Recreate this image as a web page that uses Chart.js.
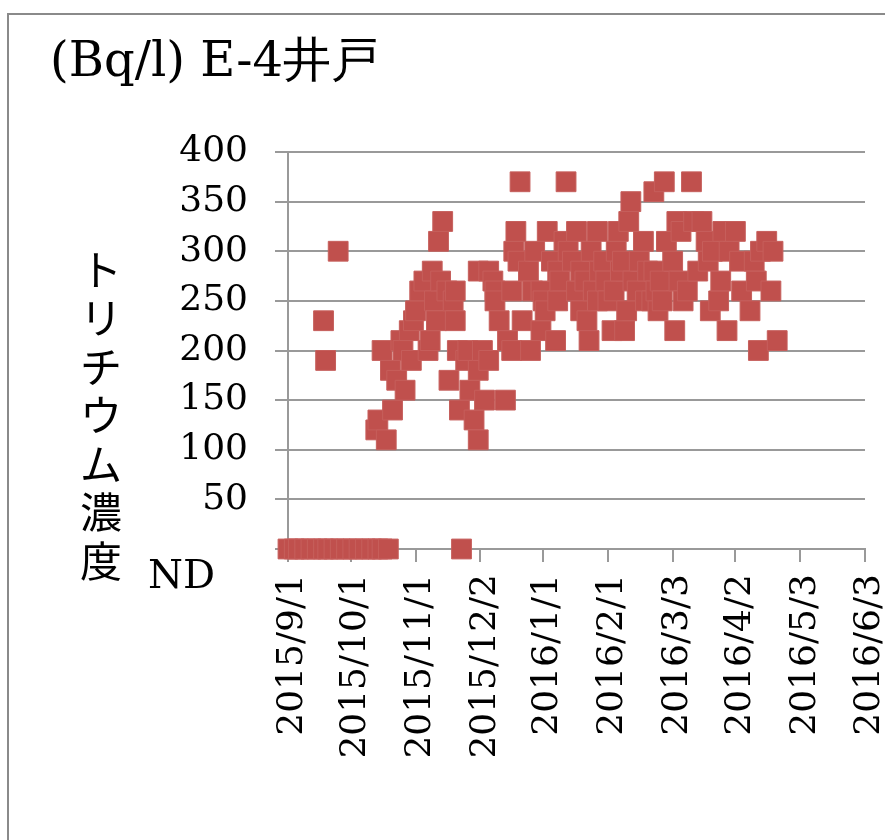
<!DOCTYPE html>
<html>
<head>
<meta charset="utf-8">
<script src="https://cdn.jsdelivr.net/npm/chart.js@4/dist/chart.umd.min.js"></script>
<style>
  html, body { margin: 0; padding: 0; background: #fff; }
</style>
</head>
<body>
<canvas id="chart" width="885" height="840"></canvas>
<script>
// dates where the result was below detection (plotted on the ND row)
const ndDates = [
  '2015/9/1', '2015/9/4', '2015/9/6', '2015/9/9', '2015/9/12', '2015/9/15',
  '2015/9/18', '2015/9/20', '2015/9/23', '2015/9/26', '2015/9/29', '2015/10/2',
  '2015/10/5', '2015/10/8', '2015/10/11', '2015/10/14', '2015/10/16', '2015/10/19',
  '2015/11/23'
];

const sampleDates = [
  '2015/9/18', '2015/9/19', '2015/9/25', '2015/10/13', '2015/10/14', '2015/10/16',
  '2015/10/18', '2015/10/20', '2015/10/21', '2015/10/23', '2015/10/25', '2015/10/26',
  '2015/10/27', '2015/10/29', '2015/10/30', '2015/10/31', '2015/11/1', '2015/11/3',
  '2015/11/5', '2015/11/7', '2015/11/8', '2015/11/9', '2015/11/10', '2015/11/11',
  '2015/11/12', '2015/11/13', '2015/11/14', '2015/11/16', '2015/11/17', '2015/11/19',
  '2015/11/20', '2015/11/20', '2015/11/21', '2015/11/22', '2015/11/25', '2015/11/26',
  '2015/11/27', '2015/11/29', '2015/12/1', '2015/12/1', '2015/12/1', '2015/12/3',
  '2015/12/4', '2015/12/6', '2015/12/6', '2015/12/8', '2015/12/9', '2015/12/9',
  '2015/12/11', '2015/12/14', '2015/12/15', '2015/12/17', '2015/12/17', '2015/12/18',
  '2015/12/19', '2015/12/20', '2015/12/21', '2015/12/22', '2015/12/25', '2015/12/26',
  '2015/12/27', '2015/12/28', '2015/12/31', '2015/12/31', '2016/1/1', '2016/1/2',
  '2016/1/3', '2016/1/5', '2016/1/7', '2016/1/8', '2016/1/8', '2016/1/9',
  '2016/1/11', '2016/1/12', '2016/1/13', '2016/1/15', '2016/1/17', '2016/1/17',
  '2016/1/19', '2016/1/19', '2016/1/21', '2016/1/22', '2016/1/23', '2016/1/24',
  '2016/1/25', '2016/1/27', '2016/1/27', '2016/1/28', '2016/1/30', '2016/1/31',
  '2016/2/1', '2016/2/3', '2016/2/4', '2016/2/5', '2016/2/6', '2016/2/7',
  '2016/2/8', '2016/2/9', '2016/2/10', '2016/2/11', '2016/2/12', '2016/2/13',
  '2016/2/15', '2016/2/16', '2016/2/18', '2016/2/19', '2016/2/20', '2016/2/22',
  '2016/2/23', '2016/2/23', '2016/2/24', '2016/2/25', '2016/2/26', '2016/2/27',
  '2016/2/28', '2016/2/29', '2016/3/3', '2016/3/4', '2016/3/5', '2016/3/6',
  '2016/3/7', '2016/3/8', '2016/3/10', '2016/3/12', '2016/3/13', '2016/3/15',
  '2016/3/17', '2016/3/19', '2016/3/20', '2016/3/21', '2016/3/22', '2016/3/25',
  '2016/3/26', '2016/3/27', '2016/3/29', '2016/3/30', '2016/4/2', '2016/4/4',
  '2016/4/5', '2016/4/9', '2016/4/11', '2016/4/12', '2016/4/13', '2016/4/14',
  '2016/4/17', '2016/4/19', '2016/4/20', '2016/4/22'
];

const tritium = [
  230, 190, 300, 120, 130, 200,
  110, 180, 140, 170, 210, 200,
  160, 220, 190, 230, 240, 260,
  270, 200, 210, 280, 250, 230,
  310, 270, 330, 260, 170, 250,
  230, 260, 200, 140, 190, 200,
  160, 130, 280, 180, 110, 200,
  150, 190, 280, 270, 260, 250,
  230, 150, 210, 260, 200, 300,
  320, 290, 370, 230, 280, 200,
  260, 300, 220, 260, 250, 240,
  320, 290, 210, 280, 250, 270,
  310, 370, 300, 290, 320, 260,
  280, 240, 270, 230, 210, 300,
  260, 320, 250, 280, 290, 270,
  250, 220, 260, 300, 320, 280,
  290, 220, 240, 330, 350, 270,
  260, 290, 310, 250, 280, 250,
  360, 280, 260, 240, 270, 250,
  370, 310, 290, 220, 330, 270,
  320, 250, 260, 370, 330, 280,
  330, 310, 290, 240, 300, 250,
  270, 320, 220, 300, 320, 290,
  260, 240, 290, 270, 200, 300,
  310, 260, 300, 210
];

const tickDates = [
  '2015/9/1', '2015/10/1', '2015/11/1', '2015/12/2', '2016/1/1',
  '2016/2/1', '2016/3/3', '2016/4/2', '2016/5/3', '2016/6/3'
];

const yMax = 400;
const yStep = 50;

const titleText = '(Bq/l) E-4井戸';
const yTitle = 'トリチウム濃度';
const ndLabel = 'ND';

const SERIF = "'DejaVu Serif', 'Liberation Serif', serif";
const CJK = "'Noto Sans CJK JP', sans-serif";

const dayOf = s => {
  const [y, m, d] = s.split('/').map(Number);
  return (Date.UTC(y, m - 1, d) - Date.UTC(2015, 8, 1)) / 864e5;
};

const points = sampleDates.map((s, i) => ({ x: dayOf(s), y: tritium[i] }))
  .concat(ndDates.map(s => ({ x: dayOf(s), y: 0 })));

const decor = {
  id: 'decor',
  beforeDraw(chart) {
    const ctx = chart.ctx;
    ctx.save();
    ctx.strokeStyle = '#8a8a8a';
    ctx.lineWidth = 2;
    ctx.strokeRect(8, 14, 900, 900);
    ctx.restore();
  },
  afterDraw(chart) {
    const ctx = chart.ctx;
    ctx.save();
    ctx.fillStyle = '#000';
    ctx.textBaseline = 'alphabetic';
    ctx.textAlign = 'left';
    ctx.font = '48px ' + SERIF;
    ctx.fillText(titleText, 50, 76);

    ctx.font = '40px ' + SERIF;
    ctx.fillText(ndLabel, 148, 588);

    ctx.font = '42px ' + CJK;
    ctx.textAlign = 'center';
    ctx.textBaseline = 'middle';
    [...yTitle].forEach((c, i) => ctx.fillText(c, 101, 270 + i * 48.5));
    ctx.restore();
  }
};

new Chart(document.getElementById('chart'), {
  type: 'scatter',
  data: {
    datasets: [{
      data: points,
      pointStyle: 'rect',
      pointRadius: 14,
      pointHoverRadius: 14,
      backgroundColor: '#C0504D',
      borderColor: '#C65F5C',
      borderWidth: 1,
      clip: false
    }]
  },
  options: {
    responsive: false,
    animation: false,
    events: [],
    layout: { padding: { left: 0, top: 152, right: 20, bottom: 0 } },
    plugins: {
      legend: { display: false },
      tooltip: { enabled: false }
    },
    scales: {
      x: {
        type: 'linear',
        min: 0,
        max: dayOf(tickDates[tickDates.length - 1]),
        afterBuildTicks: axis => {
          axis.ticks = tickDates.map(s => ({ value: dayOf(s) }));
        },
        afterFit: axis => {
          axis.height = 840 - 549;
          axis.paddingLeft = 0;
          axis.paddingRight = 0;
        },
        ticks: {
          autoSkip: false,
          minRotation: 90,
          maxRotation: 90,
          padding: 12,
          labelOffset: 5,
          color: '#000',
          font: { family: SERIF, size: 36 },
          callback: (v, i) => tickDates[i]
        },
        grid: { drawOnChartArea: false, drawTicks: true, tickLength: 13, color: '#999', lineWidth: 2 },
        border: { display: true, color: '#999', width: 2 }
      },
      y: {
        min: 0,
        max: yMax,
        afterFit: axis => {
          axis.width = 288;
          axis.paddingTop = 0;
          axis.paddingBottom = 0;
        },
        ticks: {
          stepSize: yStep,
          padding: 27,
          color: '#000',
          font: { family: SERIF, size: 36 },
          callback: v => (v === 0 ? '' : v)
        },
        grid: { color: '#999', lineWidth: 2, tickLength: 13 },
        border: { display: true, color: '#999', width: 2 }
      }
    }
  },
  plugins: [decor]
});
</script>
</body>
</html>
